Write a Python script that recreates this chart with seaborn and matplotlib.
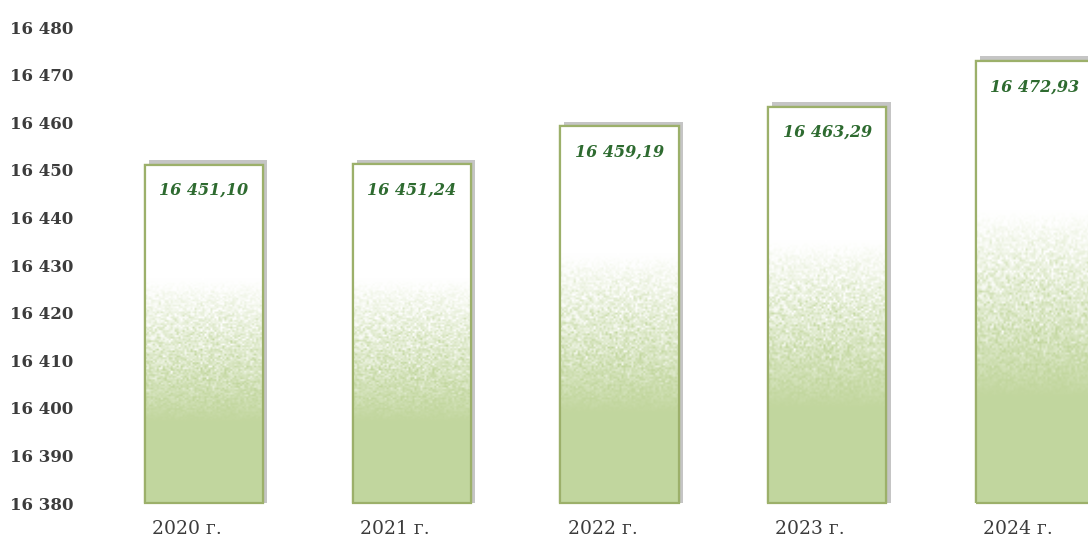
import numpy as np
import pandas as pd
import matplotlib
matplotlib.use("Agg")
import matplotlib.pyplot as plt
import matplotlib.patheffects as pe
import matplotlib.transforms as mtransforms
from matplotlib.ticker import FuncFormatter
import seaborn as sns

# data
years = ["2020 г.", "2021 г.", "2022 г.", "2023 г.", "2024 г."]
values = [16451.10, 16451.24, 16459.19, 16463.29, 16472.93]
value_labels = ["16 451,10", "16 451,24", "16 459,19", "16 463,29", "16 472,93"]
y_ticks = [16380, 16390, 16400, 16410, 16420, 16430, 16440, 16450, 16460, 16470, 16480]

df = pd.DataFrame({"year": years, "value": values})

sns.set_style("white")
plt.rcParams['font.family'] = ['DejaVu Serif']

fig = plt.figure(figsize=(10.88, 5.4), dpi=100)
ax = fig.add_axes([0.092, 0.0685, 0.908, 0.8815])

sns.barplot(data=df, x="year", y="value", color="white", width=0.57,
            edgecolor="#9cb06a", linewidth=1.6, ax=ax, zorder=2)

ax.set_ylim(16380, 16480)
ax.set_xlim(-0.5, 4.255)

# green -> white gradient with a bit of grain, like the scanned original
green = np.array([0.76, 0.84, 0.62])
rng = np.random.default_rng(3)
nrow, ncol = 200, 60
t = np.linspace(0, 1, nrow)[:, None]  # 0 = bottom, 1 = top
base = np.clip((t - 0.24) / 0.42, 0, 1)
grain = rng.normal(0, 0.2, (nrow, ncol)) * (base * (1 - base) * 4)
mix = np.clip(base + grain, 0, 1)
img = green[None, None, :] * (1 - mix[..., None]) + np.ones(3)[None, None, :] * mix[..., None]

for bar, v in zip(ax.patches, values):
    bar.set_path_effects([pe.SimplePatchShadow(offset=(3, 3), shadow_rgbFace="0.55", alpha=0.5),
                          pe.Normal()])
    x0 = bar.get_x()
    w = bar.get_width()
    im = ax.imshow(img, extent=[x0, x0 + w, 16380, v], origin="lower",
                   aspect="auto", zorder=2.1, interpolation="bilinear")
    im.set_clip_path(bar)
    edge = plt.Rectangle((x0, 16380), w, v - 16380, fill=False,
                         edgecolor="#9cb06a", linewidth=1.6, zorder=2.2, clip_on=False)
    ax.add_patch(edge)

for i, (v, lab) in enumerate(zip(values, value_labels)):
    ax.annotate(lab, xy=(i, v), xytext=(0, -26), textcoords="offset pixels",
                ha="center", va="center", fontsize=11.5, fontweight="bold",
                fontstyle="italic", color="#2e6b30", zorder=3)

ax.set_yticks(y_ticks)
ax.yaxis.set_major_formatter(FuncFormatter(lambda y, _: f"{int(y):,}".replace(",", " ")))
ax.tick_params(axis="y", length=0, pad=65, labelsize=12, labelcolor="#3c3c3c")
ax.tick_params(axis="x", length=0, pad=12, labelsize=13.5, labelcolor="#3c3c3c")
for lab in ax.get_yticklabels():
    lab.set_fontweight("bold")
    lab.set_horizontalalignment("left")

# category labels sit a little left of the bars in the original
shift = mtransforms.ScaledTranslation(-0.17, 0, fig.dpi_scale_trans)
for lab in ax.get_xticklabels():
    lab.set_transform(lab.get_transform() + shift)

ax.set_xlabel("")
ax.set_ylabel("")
sns.despine(ax=ax, left=True, bottom=True)

fig.savefig("out.png", dpi=100)
